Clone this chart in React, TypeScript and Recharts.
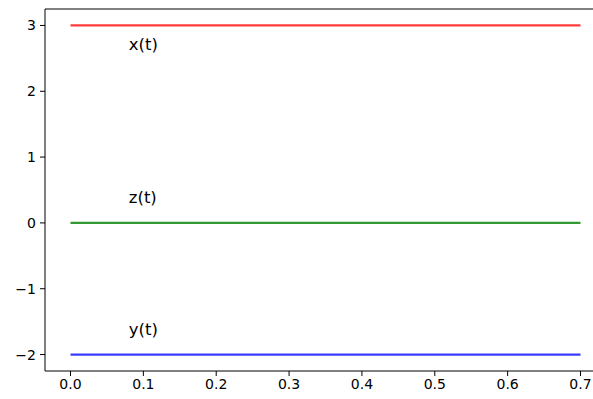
import React from 'react';
import {
  LineChart,
  Line,
  XAxis,
  YAxis,
  ReferenceDot,
} from 'recharts';

// time samples (start and end of the plotted range)
const times = [0, 0.7];
const xValues = [3, 3];
const yValues = [-2, -2];
const zValues = [0, 0];

const xTicks = [0, 0.1, 0.2, 0.3, 0.4, 0.5, 0.6, 0.7];
const yTicks = [-2, -1, 0, 1, 2, 3];

// text labels placed in data coordinates
const labelNames = ['x(t)', 'z(t)', 'y(t)'];
const labelT = [0.08, 0.08, 0.08];
const labelY = [2.63, 0.3, -1.7];

const data = times.map((t, i) => ({
  t,
  x: xValues[i],
  y: yValues[i],
  z: zValues[i],
}));

const FONT = '"DejaVu Sans", sans-serif';

const fmt = (v: number, digits: number) =>
  v.toFixed(digits).replace('-', '\u2212');

const TextLabel = (props: any) => {
  const { cx, cy, text } = props;
  return (
    <text x={cx} y={cy} fontSize={16.5} fontFamily={FONT} fill="#000" textAnchor="start">
      {text}
    </text>
  );
};

const App: React.FC = () => {
  return (
    <div
      style={{
        position: 'fixed',
        left: 0,
        top: 0,
        width: 593,
        height: 399,
        overflow: 'hidden',
        background: '#fff',
      }}
    >
      <LineChart
        width={636}
        height={399}
        data={data}
        margin={{ top: 8, right: 30, bottom: 0, left: 0 }}
      >
        <XAxis
          xAxisId="top"
          orientation="top"
          dataKey="t"
          type="number"
          domain={[-0.035, 0.735]}
          tick={false}
          tickLine={false}
          height={1}
          stroke="#000"
        />
        <XAxis
          dataKey="t"
          type="number"
          domain={[-0.035, 0.735]}
          ticks={xTicks}
          allowDataOverflow
          tickFormatter={(v) => fmt(v, 1)}
          stroke="#000"
          tickSize={5}
          tickMargin={3}
          height={28}
          tick={{ fill: '#000', fontSize: 14, fontFamily: FONT }}
        />
        <YAxis
          type="number"
          domain={[-2.25, 3.25]}
          ticks={yTicks}
          allowDataOverflow
          tickFormatter={(v) => fmt(v, 0)}
          stroke="#000"
          tickSize={5}
          tickMargin={4}
          width={45}
          tick={{ fill: '#000', fontSize: 14, fontFamily: FONT }}
        />
        <Line
          dataKey="x"
          stroke="#ff3b3b"
          strokeWidth={2.2}
          dot={false}
          isAnimationActive={false}
        />
        <Line
          dataKey="z"
          stroke="#339933"
          strokeWidth={2.2}
          dot={false}
          isAnimationActive={false}
        />
        <Line
          dataKey="y"
          stroke="#3b3bff"
          strokeWidth={2.2}
          dot={false}
          isAnimationActive={false}
        />
        {labelNames.map((name, i) => (
          <ReferenceDot
            key={name}
            x={labelT[i]}
            y={labelY[i]}
            r={0}
            shape={(p: any) => <TextLabel {...p} text={name} />}
          />
        ))}
      </LineChart>
    </div>
  );
};

export default App;
